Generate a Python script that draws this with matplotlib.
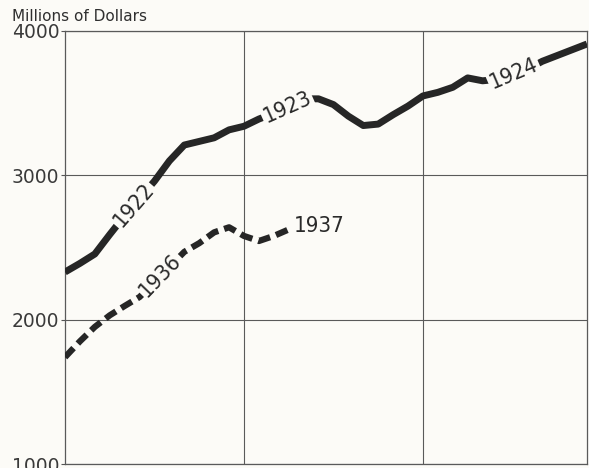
import numpy as np
import matplotlib.pyplot as plt

# months counted from January of the first year
months_a = np.arange(36)
sales_1922 = [2330, 2390, 2455, 2590, 2720, 2840, 2960, 3100, 3210, 3235,
              3260, 3315, 3340, 3390, 3430, 3475, 3530, 3530, 3490, 3410,
              3345, 3355, 3420, 3480, 3550, 3575, 3610, 3675, 3655, 3665,
              3700, 3735, 3790, 3830, 3870, 3910]

months_b = np.arange(16)
sales_1936 = [1740, 1850, 1950, 2030, 2095, 2157, 2260, 2365, 2470, 2530,
              2605, 2640, 2580, 2545, 2580, 2625]

yticks = [1000, 2000, 3000, 4000]
year_grid = [12, 24]

bg = '#fcfbf7'
ink = '#262626'

fig = plt.figure(figsize=(5.89, 4.68), dpi=100, facecolor=bg)
ax = fig.add_axes([65 / 589, 1 - 464 / 468, 522 / 589, 433 / 468])
ax.set_facecolor(bg)

ax.plot(months_a, sales_1922, color=ink, lw=5, solid_capstyle='butt',
        solid_joinstyle='round', zorder=3)
ax.plot(months_b, sales_1936, color=ink, lw=4.5, linestyle=(0, (2.0, 1.0)),
        dash_capstyle='butt', zorder=3)

ax.set_xlim(0, 35)
ax.set_ylim(1000, 4000)
ax.set_yticks(yticks)
ax.set_yticklabels([str(v) for v in yticks], fontsize=13.5, color='#3a3a3a')
ax.set_xticks(year_grid)
ax.set_xticklabels([])
ax.tick_params(axis='x', length=0)
ax.tick_params(axis='y', length=3, width=0.8, color='#555555', pad=1)
ax.grid(True, color='#5a5a5a', lw=0.8)
for s in ax.spines.values():
    s.set_color('#5a5a5a')
    s.set_linewidth(0.9)

# year labels sitting on the lines
box = dict(boxstyle='square,pad=0.08', fc=bg, ec='none')
year_labels = [('1922', 4.6, 2794, 49), ('1923', 14.9, 3473, 24),
               ('1924', 30.1, 3702, 23), ('1936', 6.4, 2309, 46)]
for txt, mx, val, rot in year_labels:
    ax.text(mx, val, txt, rotation=rot, rotation_mode='anchor', ha='center',
            va='center', fontsize=16, family='DejaVu Sans',
            fontstretch='condensed', color='#2a2a2a', bbox=box, zorder=4)
ax.text(15.35, 2649, '1937', ha='left', va='center', fontsize=16,
        family='DejaVu Sans', fontstretch='condensed', color='#2a2a2a',
        zorder=4)

fig.text(12 / 589, 1 - 21 / 468, 'Millions of Dollars', fontsize=11,
         color='#2f2f2f', fontweight='medium', va='baseline')

fig.savefig('out.png', dpi=100, facecolor=bg)
